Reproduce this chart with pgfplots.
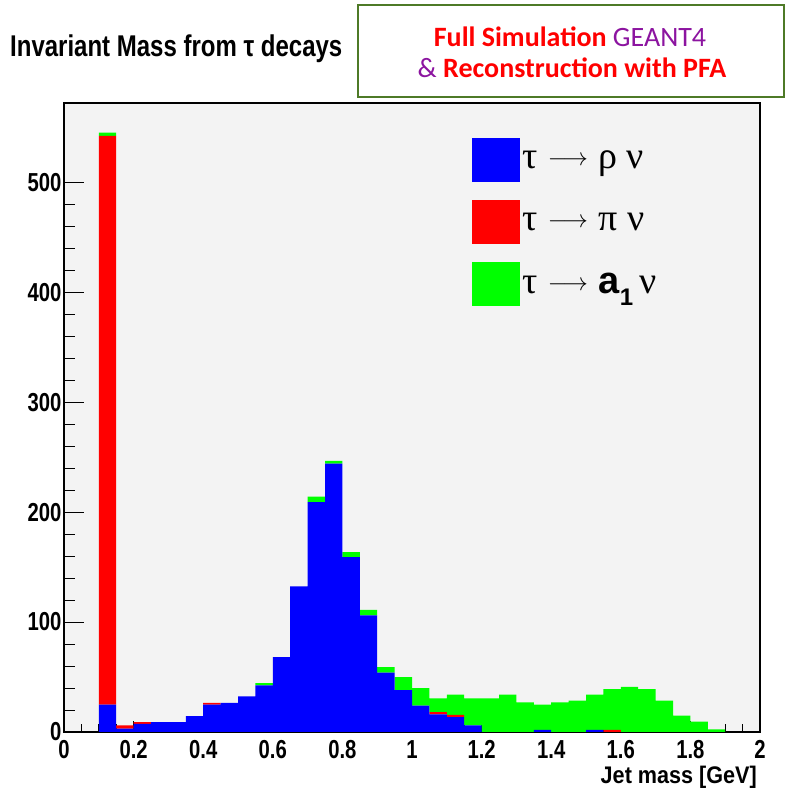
\documentclass[border=0pt]{standalone}
\usepackage{pgfplots}
\pgfplotsset{compat=1.18}
\usepackage{pgfplotstable}
\usepackage{fontspec}
\usepackage{amsmath}
\setmainfont{Liberation Sans}
\newfontfamily\carlito{Carlito}
\newfontfamily\symf{Liberation Serif}
\newcommand\arr{\raisebox{3pt}{\fontsize{24}{24}\selectfont$\longrightarrow$}}
\definecolor{bgray}{RGB}{243,243,243}
\definecolor{boxgreen}{RGB}{78,122,39}
\definecolor{gpurple}{RGB}{140,20,160}
\definecolor{hblue}{RGB}{0,0,255}
\definecolor{hred}{RGB}{255,0,0}
\definecolor{hgreen}{RGB}{0,255,0}

\pgfplotstableread{
x     rho   pi   a1
0.025 0     0    0
0.075 0     0    0
0.125 25    517  3
0.175 3     3    0
0.225 7.5   1.5  0
0.275 9     0    0
0.325 9     0    0
0.375 14.5  0    0
0.425 25    1.5  0
0.475 26.5  0    0
0.525 32.5  0    0
0.575 42.5  0    2
0.625 68    0    0
0.675 132.5 0    0
0.725 209   0    5
0.775 244   0    2.5
0.825 159   0    4.5
0.875 106   0    5
0.925 54    0    5
0.975 38    0    12
1.025 24    0    16
1.075 16    2    12.5
1.125 13.5  2    18.5
1.175 6     0    24.5
1.225 0     0    30.5
1.275 0     0    34
1.325 0     0    27
1.375 2     0    23
1.425 0     0    27
1.475 0     0    28.5
1.525 2     0    32
1.575 0     2    37
1.625 0     0    41
1.675 0     0    39
1.725 0     0    28.5
1.775 0     0    15
1.825 0     0    9.5
1.875 0     0    2.5
1.925 0     0    0
1.975 0     0    0
}\histdata

\begin{document}
\begin{tikzpicture}[x=1pt,y=1pt]
\path[use as bounding box] (-64,-63) rectangle (722,732);
\begin{axis}[
  at={(0,0)}, anchor=south west,
  scale only axis, width=696pt, height=629pt,
  xmin=0, xmax=2, ymin=0, ymax=572,
  axis background/.style={fill=bgray},
  ybar stacked, bar width=0.05,
  axis line style={line width=1.2pt},
  xtick={0,0.2,0.4,0.6,0.8,1,1.2,1.4,1.6,1.8,2},
  minor x tick num=3,
  ytick={0,100,200,300,400,500},
  minor y tick num=4,
  tick align=inside, tick pos=left,
  tick style={black, line width=1pt},
  xtick style={/pgfplots/major tick length=11pt, /pgfplots/minor tick length=8pt},
  ytick style={/pgfplots/major tick length=20pt, /pgfplots/minor tick length=11pt},
  /pgf/number format/assume math mode=true,
  ticklabel style={font=\bfseries\fontsize{26}{26}\selectfont},
  xticklabel style={yshift=-5pt},
  yticklabel style={xshift=1pt},
  xticklabel={\scalebox{0.78}[1]{\pgfmathprintnumber{\tick}}},
  yticklabel={\scalebox{0.78}[1]{\pgfmathprintnumber{\tick}}},
  legend style={at={(rel axis cs:0.586,0.944)}, anchor=north west, draw=none, fill=none,
    inner sep=0pt, font=\fontsize{38}{38}\selectfont, row sep=18pt,
    /tikz/every even column/.append style={column sep=6pt}},
  legend cell align=left,
]
\addplot[fill=hblue, draw=none, legend image code/.code={\fill[hblue] (0pt,-22pt) rectangle (48pt,22pt);}] table[x=x,y=rho]{\histdata};
\addlegendentry{{\symf τ} \arr{} {\symf ρ ν}}
\addplot[fill=hred, draw=none, legend image code/.code={\fill[hred] (0pt,-22pt) rectangle (48pt,22pt);}] table[x=x,y=pi]{\histdata};
\addlegendentry{{\symf τ} \arr{} {\symf π ν}}
\addplot[fill=hgreen, draw=none, legend image code/.code={\fill[hgreen] (0pt,-22pt) rectangle (48pt,22pt);}] table[x=x,y=a1]{\histdata};
\addlegendentry{{\symf τ} \arr{} \textbf{a}\raisebox{-0.3em}{\fontsize{24}{24}\selectfont\bfseries 1}\,{\symf ν}}
\end{axis}
\node[anchor=base west, inner sep=0pt, font=\bfseries\fontsize{30}{30}\selectfont] at (-54,675) {\scalebox{0.8}[1]{Invariant Mass from τ decays}};
\draw[boxgreen, line width=2.5pt, fill=white] (294,635) rectangle (720,727);
\node[anchor=base, inner sep=0pt, font=\carlito\fontsize{28}{28}\selectfont] at (506,685) {\textcolor{hred}{\bfseries Full Simulation} \textcolor{gpurple}{GEANT4}};
\node[anchor=base, inner sep=0pt, font=\carlito\fontsize{28}{28}\selectfont] at (508,654) {\textcolor{gpurple}{\&} \textcolor{hred}{\bfseries Reconstruction with PFA}};
\node[anchor=base east, inner sep=0pt, font=\bfseries\fontsize{24}{24}\selectfont] at (693,-52) {\scalebox{0.9}[1]{Jet mass [GeV]}};
\end{tikzpicture}
\end{document}
